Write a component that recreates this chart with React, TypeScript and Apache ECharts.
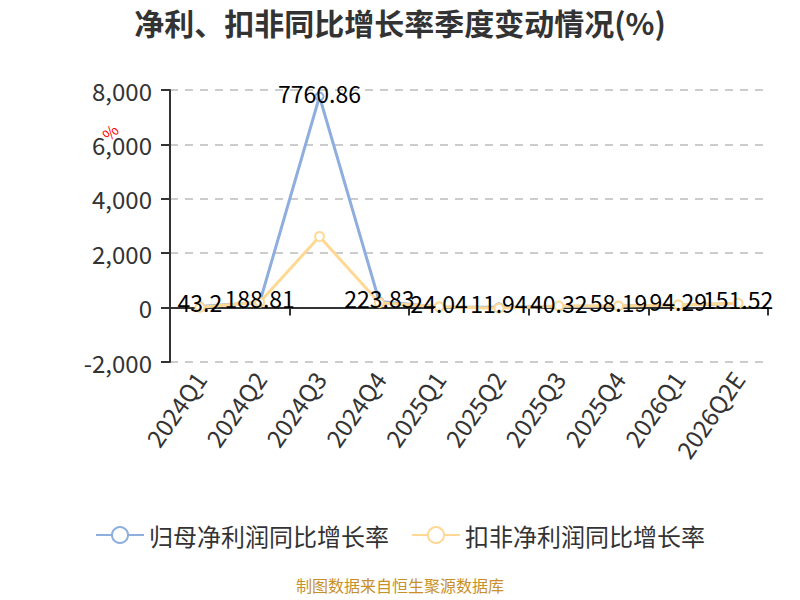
import { useEffect, useRef } from 'react';
import * as echarts from 'echarts';

const quarters = ['2024Q1', '2024Q2', '2024Q3', '2024Q4', '2025Q1', '2025Q2', '2025Q3', '2025Q4', '2026Q1', '2026Q2E'];
const parentNetGrowth = [43.2, 188.81, 7760.86, 223.83, 24.04, 11.94, 40.32, 58.19, 94.29, 151.52];
const deductedNetGrowth = [10, 195, 2610, 180, 30, -25, 60, 60, 100, 160];
const seriesNames = ['归母净利润同比增长率', '扣非净利润同比增长率'];

const FONT = '"Noto Sans CJK SC", "Noto Sans", sans-serif';
const BLUE = '#8EAEDD';
const ORANGE = '#FFD894';

export default function App() {
  const chartRef = useRef<HTMLDivElement>(null);

  useEffect(() => {
    if (!chartRef.current) return;

    const chart = echarts.init(chartRef.current, null, { renderer: 'svg' });

    const option = {
      animation: false,
      textStyle: { fontFamily: FONT },
      title: {
        text: '净利、扣非同比增长率季度变动情况(%)',
        left: 'center',
        top: 2,
        textStyle: {
          color: '#333333',
          fontSize: 30,
          fontWeight: 'bold',
          fontFamily: FONT,
        },
      },
      legend: {
        bottom: 48,
        left: 'center',
        itemWidth: 48,
        itemHeight: 20,
        itemGap: 22,
        textStyle: {
          color: '#333333',
          fontSize: 24,
          fontFamily: FONT,
        },
        data: seriesNames,
      },
      graphic: [
        {
          type: 'text',
          left: 99,
          top: 121,
          rotation: Math.PI / 4,
          style: { text: '%', fill: '#ff0000', fontSize: 16, fontFamily: FONT },
        },
        {
          type: 'text',
          left: 'center',
          top: 577,
          style: {
            text: '制图数据来自恒生聚源数据库',
            fill: '#C8902A',
            fontSize: 16,
            fontFamily: FONT,
          },
        },
      ],
      grid: {
        left: 170,
        right: 32,
        top: 90,
        bottom: 238,
      },
      xAxis: [
        {
          type: 'category',
          data: quarters,
          axisLine: { onZero: true, lineStyle: { color: '#333333', width: 2 } },
          axisTick: { show: true, length: 8, lineStyle: { color: '#333333', width: 2 } },
          axisLabel: { show: false },
        },
        {
          type: 'category',
          data: quarters,
          position: 'bottom',
          axisLine: { show: false, onZero: false },
          axisTick: { show: false },
          axisLabel: {
            rotate: 55,
            color: '#333333',
            fontSize: 24,
            fontFamily: FONT,
            margin: 12,
          },
        },
      ],
      yAxis: {
        type: 'value',
        min: -2000,
        max: 8000,
        interval: 2000,
        axisLine: { show: true, lineStyle: { color: '#333333', width: 2 } },
        axisTick: { show: true, length: 9, lineStyle: { color: '#333333', width: 2 } },
        axisLabel: {
          color: '#333333',
          fontSize: 24,
          fontFamily: FONT,
          margin: 18,
          formatter: (v: number) => v.toLocaleString('en-US'),
        },
        splitLine: {
          lineStyle: { color: '#cccccc', type: [8, 7], width: 2 },
        },
      },
      series: [
        {
          name: seriesNames[0],
          type: 'line',
          xAxisIndex: 0,
          data: parentNetGrowth,
          symbol: 'emptyCircle',
          symbolSize: 8,
          itemStyle: { color: BLUE, borderWidth: 2 },
          lineStyle: { color: BLUE, width: 3 },
          label: {
            show: true,
            position: 'inside',
            offset: [0, -4],
            color: '#000000',
            fontSize: 23,
            fontFamily: FONT,
          },
        },
        {
          name: seriesNames[1],
          type: 'line',
          xAxisIndex: 0,
          data: deductedNetGrowth,
          symbol: 'emptyCircle',
          symbolSize: 9,
          itemStyle: { color: ORANGE, borderWidth: 2 },
          lineStyle: { color: ORANGE, width: 3 },
        },
      ],
    };

    chart.setOption(option);

    return () => {
      chart.dispose();
    };
  }, []);

  return (
    <div
      ref={chartRef}
      style={{ position: 'absolute', left: 0, top: 0, width: 800, height: 600, background: '#ffffff' }}
    />
  );
}
